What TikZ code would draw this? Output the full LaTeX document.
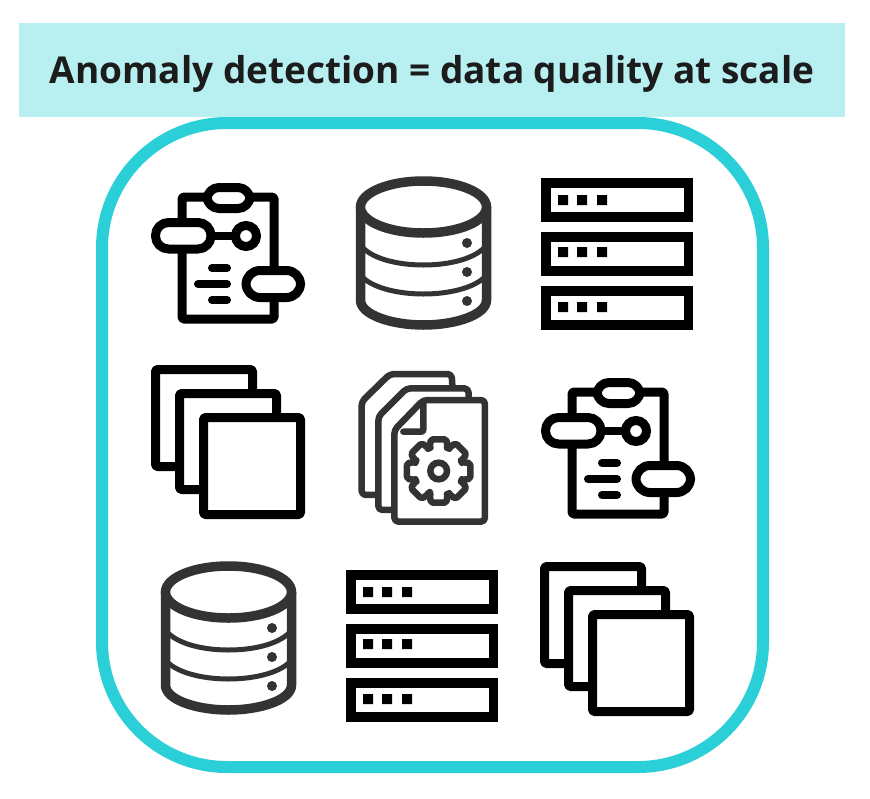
\documentclass[tikz,border=0pt]{standalone}
\usepackage{fontspec}
\setmainfont{Open Sans}
\definecolor{teal1}{HTML}{2BCFD8}
\definecolor{teal2}{HTML}{B8F0F2}
\definecolor{ink}{HTML}{333333}
\definecolor{titleink}{HTML}{1C1C1C}
\tikzset{
 blk/.style={draw=black,line width=9pt,line join=round},
 pill/.style={blk,fill=white,rounded corners=12pt},
 rack/.style={draw=black,line width=9.5pt,fill=white},
 pip/.style={fill=black},
 sheet/.style={draw=black,line width=9pt,fill=white,line join=round},
 cyl/.style={draw=ink,line width=9.5pt},
 cylthin/.style={draw=ink,line width=5pt},
 doc/.style={draw=ink,line width=6.5pt,line join=round,rounded corners=4pt},
}
\newcommand{\clipicon}[2]{\begin{scope}[shift={(#1,#2)}]
 \draw[blk,fill=white,rounded corners=1.5pt] (182,197) rectangle (274,319);
 \draw[pill] (207,187.5) rectangle (250,208.5);
 \draw[blk,line width=8pt] (211,236) -- (236,236);
 \draw[draw=black,line width=9pt,fill=white] (246,236) circle (10.5);
 \draw[pill,rounded corners=13pt] (155.5,222.5) rectangle (211,249);
 \draw[pill,rounded corners=14pt] (246,270.5) rectangle (300.5,297.5);
 \draw[black,line width=8pt,line cap=round] (212,268) -- (227,268) (198,284) -- (227,284) (212,300) -- (227,300);
\end{scope}}
\newcommand{\cylicon}[2]{\begin{scope}[shift={(#1,#2)}]
 \draw[cyl,fill=white] (360.5,207) -- (360.5,300) .. controls (360.5,315) and (392,325) .. (423.5,325) .. controls (455,325) and (486.5,315) .. (486.5,300) -- (486.5,207);
 \draw[cylthin] (360.5,245) .. controls (370,258) and (396,265) .. (423.5,265) .. controls (451,265) and (477,258) .. (486.5,245);
 \draw[cylthin] (360.5,275) .. controls (370,287) and (396,294) .. (423.5,294) .. controls (451,294) and (477,287) .. (486.5,275);
 \draw[cyl,fill=white] (423.5,207) ellipse [x radius=63,y radius=26];
 \fill[ink] (467,243) circle (5) (467,272) circle (5) (467,301) circle (5);
\end{scope}}
\newcommand{\rackicon}[2]{\begin{scope}[shift={(#1,#2)}]
 \foreach \t/\d in {178/195,232/247,286/302}{
  \draw[rack] (545.75,\t+4.75) rectangle (688.25,\t+38.75);
  \fill[pip] (558,\d) rectangle +(10,10) (577,\d) rectangle +(10,10) (597,\d) rectangle +(10,10);
 }
\end{scope}}
\newcommand{\sheeticon}[2]{\begin{scope}[shift={(#1,#2)}]
 \draw[sheet,rounded corners=1.5pt] (155.5,369.5) rectangle (252.5,466.5);
 \draw[sheet,rounded corners=1.5pt] (179.5,393.5) rectangle (276.5,489.5);
 \draw[sheet,rounded corners=1.5pt] (203.5,417.5) rectangle (300.5,514.5);
\end{scope}}
\begin{document}
\begin{tikzpicture}[x=1pt,y=-1pt]
\useasboundingbox (0,0) rectangle (870,798);
\fill[white] (0,0) rectangle (870,798);
\draw[teal1,line width=12pt,rounded corners=125pt] (102,123) rectangle (763,767);
\node[fill=teal2,minimum width=826pt,minimum height=94pt,inner sep=0pt,anchor=north west] (title) at (19,23) {};
\node[text=titleink,font=\bfseries\fontsize{37}{40}\selectfont] (titletext) at (432,74) {Anomaly detection = data quality at scale};
\clipicon{0}{0}
\cylicon{0}{0}
\rackicon{0}{0}
\sheeticon{0}{0}
\clipicon{390}{195}
\cylicon{-195}{385}
\rackicon{-195}{392}
\sheeticon{389}{197}
\begin{scope}[shift={(345,360)},x=0.3333pt,y=-0.3333pt]
 \draw[doc,fill=white] (100,405) -- (50,405) -- (50,125) -- (135,42) -- (320,42) -- (322,75);
 \draw[doc,fill=white] (150,450) -- (100,450) -- (100,170) -- (185,85) -- (370,85) -- (372,125);
 \draw[doc,fill=white] (148,485) -- (148,210) -- (235,120) -- (420,120) -- (420,485) -- cycle;
 \draw[doc,rounded corners=2pt,line cap=round] (235,125) -- (235,215) -- (175,215);
 \begin{scope}[shift={(281,333)}]
  \draw[ink,line width=6.5pt,line join=round,rounded corners=2pt]
   (90+21:74) \foreach \a in {90,45,0,-45,-90,-135,180,135}{
     -- (\a+21:74) -- (\a+14:98) -- (\a-14:98) -- (\a-21:74)
   } -- cycle;
  \draw[ink,line width=6.5pt] (0,0) circle (25);
 \end{scope}
\end{scope}
\end{tikzpicture}
\end{document}
